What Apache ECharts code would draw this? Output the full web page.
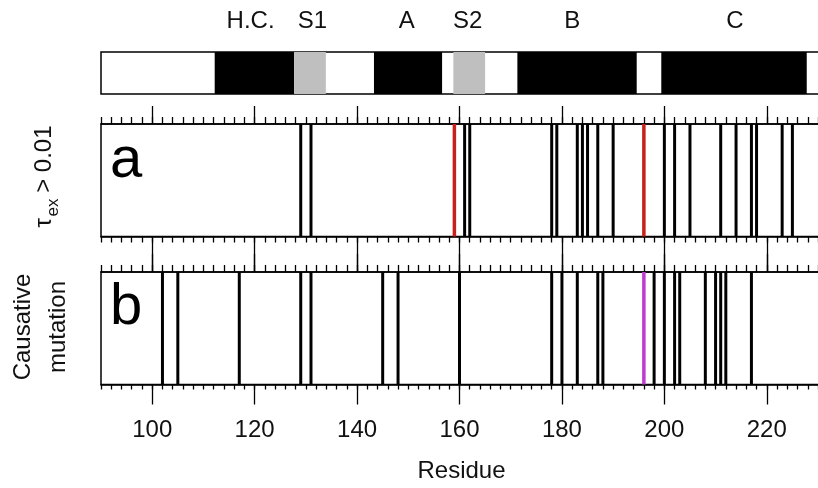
<!DOCTYPE html>
<html>
<head>
<meta charset="utf-8">
<script src="https://cdn.jsdelivr.net/npm/echarts@6/dist/echarts.min.js"></script>
<style>
  html, body { margin: 0; padding: 0; background: #fff; overflow: hidden; }
  #chart { width: 822px; height: 488px; }
</style>
</head>
<body>
<div id="chart"></div>
<script>
// residue range and ticks
var xMin = 90;
var xMax = 230.78;
var majorTicks = [100, 120, 140, 160, 180, 200, 220];

// secondary structure segments [start, end]
var helixSegs = [[112.2, 127.7], [143.3, 156.6], [171.3, 194.6], [199.4, 227.8]];
var strandSegs = [[127.7, 133.9], [158.8, 165.0]];
var structNames = ['H.C.', 'S1', 'A', 'S2', 'B', 'C'];
var structNamePos = [119.2, 131.3, 149.7, 161.6, 182, 213.8];

// panel a: residues with tau_ex > 0.01
var tauResidues = [129, 131, 161, 162, 178, 179, 183, 184, 185, 187, 190, 200, 202, 205, 211, 214, 217, 218, 223, 225];
var tauHighlight = [159, 196];

// panel b: causative mutations
var causeResidues = [102, 105, 117, 129, 131, 145, 148, 160, 178, 180, 183, 187, 188, 198, 200, 202, 203, 208, 210, 211, 212, 217];
var causeHighlight = [196];

var FONT = 'Liberation Sans, Arial, sans-serif';

function segRender(color) {
  return function (params, api) {
    var p0 = api.coord([api.value(0), 1]);
    var p1 = api.coord([api.value(1), 0]);
    return {
      type: 'rect',
      shape: { x: p0[0], y: p0[1], width: p1[0] - p0[0], height: p1[1] - p0[1] },
      style: { fill: color }
    };
  };
}

function lineRender(color, width) {
  return function (params, api) {
    var top = api.coord([api.value(0), 1]);
    var bot = api.coord([api.value(0), 0]);
    return {
      type: 'line',
      shape: { x1: top[0], y1: top[1], x2: bot[0], y2: bot[1] },
      style: { stroke: color, lineWidth: width }
    };
  };
}

function tickAxis(grid, pos, len, major, labels) {
  var ax = {
    type: 'value', gridIndex: grid, position: pos, min: xMin, max: xMax,
    splitLine: { show: false },
    axisLine: { show: !major, onZero: false, lineStyle: { color: '#000', width: 1.5 } },
    axisTick: { show: true, inside: false, length: len, lineStyle: { color: '#000', width: 1.3 } },
    axisLabel: { show: false }
  };
  if (major) {
    ax.axisTick.customValues = majorTicks;
  } else {
    ax.interval = 2;
  }
  if (labels) {
    ax.axisLabel = {
      show: true, customValues: majorTicks, margin: 34,
      fontSize: 24, color: '#111', fontFamily: FONT
    };
    ax.name = 'Residue';
    ax.nameLocation = 'middle';
    ax.nameGap = 75;
    ax.nameTextStyle = { fontSize: 24, color: '#111', fontFamily: FONT };
  }
  return ax;
}

var chart = echarts.init(document.getElementById('chart'));

var gridBase = { left: 101, right: 0, show: true, borderColor: '#000', borderWidth: 1.5 };

var option = {
  backgroundColor: '#fff',
  animation: false,
  grid: [
    Object.assign({ top: 52, height: 42 }, gridBase),
    Object.assign({ top: 124, height: 112.5 }, gridBase),
    Object.assign({ top: 272, height: 112.5 }, gridBase)
  ],
  xAxis: [
    { type: 'value', gridIndex: 0, min: xMin, max: xMax, show: false },
    tickAxis(1, 'top', 7, false),
    tickAxis(1, 'top', 18, true),
    tickAxis(1, 'bottom', 6, false),
    tickAxis(1, 'bottom', 35, true),
    tickAxis(2, 'top', 7, false),
    tickAxis(2, 'top', 18, true),
    tickAxis(2, 'bottom', 5, false),
    tickAxis(2, 'bottom', 20, true, true)
  ],
  yAxis: [0, 1, 2].map(function (g) {
    return { type: 'value', gridIndex: g, min: 0, max: 1, show: false };
  }),
  series: [
    {
      type: 'custom', xAxisIndex: 0, yAxisIndex: 0, renderItem: segRender('#000'),
      encode: { x: [0, 1] }, data: helixSegs
    },
    {
      type: 'custom', xAxisIndex: 0, yAxisIndex: 0, renderItem: segRender('#bfbfbf'),
      encode: { x: [0, 1] }, data: strandSegs
    },
    {
      type: 'custom', xAxisIndex: 0, yAxisIndex: 0,
      encode: { x: 0 },
      data: structNamePos.map(function (p, i) { return [p, structNames[i]]; }),
      renderItem: function (params, api) {
        var c = api.coord([api.value(0), 1]);
        return {
          type: 'text',
          x: c[0], y: c[1] - 31,
          style: {
            text: structNames[params.dataIndex], fill: '#111',
            font: '24px ' + FONT, align: 'center', verticalAlign: 'middle'
          }
        };
      }
    },
    {
      type: 'custom', xAxisIndex: 1, yAxisIndex: 1, renderItem: lineRender('#000', 3),
      encode: { x: 0 }, data: tauResidues.map(function (r) { return [r]; })
    },
    {
      type: 'custom', xAxisIndex: 1, yAxisIndex: 1, renderItem: lineRender('#c8201c', 3.5),
      encode: { x: 0 }, data: tauHighlight.map(function (r) { return [r]; })
    },
    {
      type: 'custom', xAxisIndex: 5, yAxisIndex: 2, renderItem: lineRender('#000', 3),
      encode: { x: 0 }, data: causeResidues.map(function (r) { return [r]; })
    },
    {
      type: 'custom', xAxisIndex: 5, yAxisIndex: 2, renderItem: lineRender('#c03ad0', 3.5),
      encode: { x: 0 }, data: causeHighlight.map(function (r) { return [r]; })
    }
  ],
  graphic: [
    {
      type: 'text', left: 110, top: 132,
      style: { text: 'a', font: '58px ' + FONT, fill: '#000' }
    },
    {
      type: 'text', left: 110, top: 279,
      style: { text: 'b', font: '58px ' + FONT, fill: '#000' }
    },
    {
      type: 'group', x: 44, y: 176.5, rotation: Math.PI / 2,
      children: [
        { type: 'text', x: -51, y: 0, style: { text: 'τ', font: '24px ' + FONT, fill: '#111', align: 'left', verticalAlign: 'middle' } },
        { type: 'text', x: -40, y: 9, style: { text: 'ex', font: '17px ' + FONT, fill: '#111', align: 'left', verticalAlign: 'middle' } },
        { type: 'text', x: -23, y: 0, style: { text: ' > 0.01', font: '24px ' + FONT, fill: '#111', align: 'left', verticalAlign: 'middle' } }
      ]
    },
    {
      type: 'text', x: 41, y: 327, rotation: Math.PI / 2,
      style: {
        text: 'Causative\nmutation', font: '24px ' + FONT, fill: '#111',
        align: 'center', verticalAlign: 'middle', lineHeight: 35
      }
    }
  ]
};

chart.setOption(option);
</script>
</body>
</html>
